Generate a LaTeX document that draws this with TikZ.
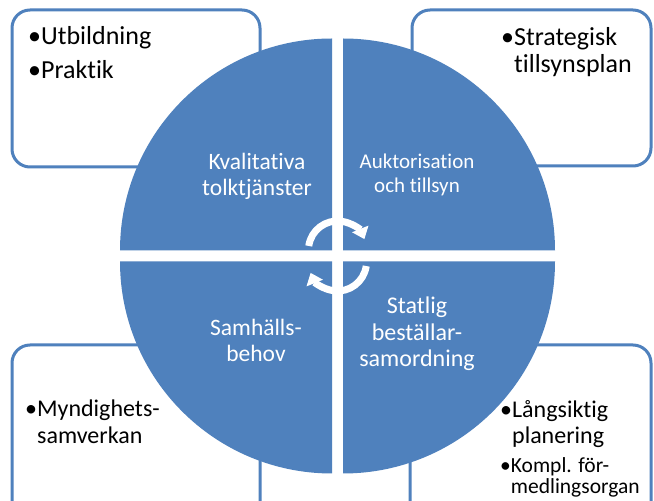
\documentclass[tikz,border=0pt]{standalone}
\usepackage{fontspec}
\setmainfont{Carlito}[Ligatures=NoCommon]
\definecolor{quadblue}{RGB}{79,129,189}
\usetikzlibrary{arrows.meta, calc}
\tikzset{
    notebox/.style={draw=quadblue, line width=3pt, fill=white, rounded corners=18pt},
    quadrant/.style={fill=quadblue},
    quadtext/.style={text=white, align=center, inner sep=0pt, font=\fontsize{23.5}{26}\selectfont},
    notetext/.style={align=left, inner sep=0pt, anchor=north west, font=\fontsize{24}{26.5}\selectfont},
    cyclearrow/.style={-{Triangle[width=17pt,length=11pt]}, white, line width=7pt},
}

\begin{document}
\begin{tikzpicture}[x=1pt, y=1pt]
    \useasboundingbox (0,0) rectangle (654,501);
    \clip (0,0) rectangle (654,501);
    \fill[white] (0,0) rectangle (654,501);

    % Note boxes behind the circle
    \draw[notebox] (12,334) rectangle (260,491);
    \draw[notebox] (412,335) rectangle (651,491);
    \draw[notebox] (12,-30) rectangle (260,156);
    \draw[notebox] (410,-30) rectangle (651,156);

    % Four quadrants of the circle
    \coordinate (hub) at (337.5,245);
    \fill[quadrant] ($(hub)+(-5.5,5.5)$) -- ++(-212,0) arc[start angle=180, end angle=90, radius=212] -- cycle;
    \fill[quadrant] ($(hub)+(5.5,5.5)$) -- ++(0,212) arc[start angle=90, end angle=0, radius=212] -- cycle;
    \fill[quadrant] ($(hub)+(-5.5,-5.5)$) -- ++(0,-212) arc[start angle=270, end angle=180, radius=212] -- cycle;
    \fill[quadrant] ($(hub)+(5.5,-5.5)$) -- ++(212,0) arc[start angle=0, end angle=-90, radius=212] -- cycle;

    % Cycle arrows in the middle
    \draw[cyclearrow] ($(hub)+(0,6)+(172:29)$) arc[start angle=172, end angle=22, radius=29];
    \draw[cyclearrow] ($(hub)+(0,-6)+(-8:29)$) arc[start angle=-8, end angle=-158, radius=29];

    % Quadrant labels
    \node[quadtext] (kval) at (257,324.5) {Kvalitativa\\tolktjänster};
    \node[quadtext, font=\fontsize{21}{24}\selectfont] (auk) at (417,326) {Auktorisation\\och tillsyn};
    \node[quadtext] (samh) at (256,161) {Samhälls-\\behov};
    \node[quadtext, font=\fontsize{24}{26.5}\selectfont] (stat) at (417,167) {Statlig\\beställar-\\samordning};

    % Bullet texts
    \node[notetext, font=\fontsize{26}{27}\selectfont] (utb) at (28,475) {\textbullet Utbildning\\[7pt]\textbullet Praktik};
    \node[notetext, font=\fontsize{26}{27}\selectfont] (strat) at (501,474) {\textbullet Strategisk\\\phantom{\textbullet}tillsynsplan};
    \node[notetext] (mynd) at (25,101) {\textbullet Myndighets-\\\phantom{\textbullet}samverkan};
    \node[notetext] (lang) at (500,101) {\textbullet Långsiktig\\\phantom{\textbullet}planering};
    \node[notetext, font=\fontsize{21.5}{21}\selectfont] (kompl) at ([yshift=-9pt]lang.south west) {\textbullet Kompl. för-\\\phantom{\textbullet}medlingsorgan};
\end{tikzpicture}
\end{document}
